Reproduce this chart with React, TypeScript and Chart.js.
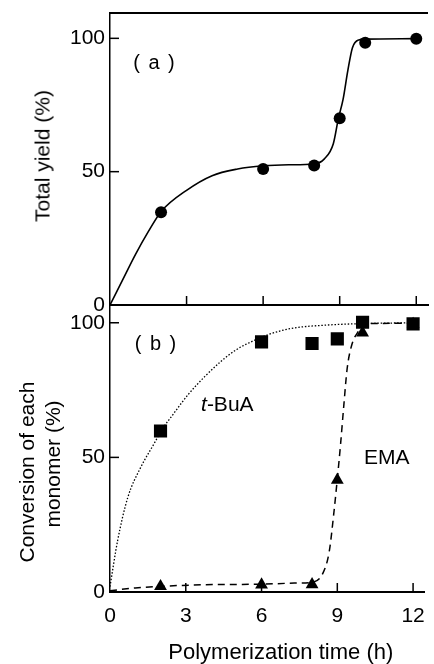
import React, { useEffect, useRef } from 'react';
import { Chart, registerables } from 'chart.js';

Chart.register(...registerables);

const FONT = '"Liberation Sans", Arial, Helvetica, sans-serif';

// axis ticks
const xTickValues = [0, 3, 6, 9, 12];
const yTickValues = [0, 50, 100];

// measured points (h, %)
const sampleTimes = [2, 6, 8, 9, 10, 12];
const totalYield = [34.8, 51.0, 52.3, 70.0, 98.3, 99.8];
const tBuAConversion = [59.8, 92.9, 92.3, 94.0, 100.2, 99.6];
const emaConversion = [2.1, 2.7, 2.8, 41.6, 96.3, 99.5];

// hand-drawn guide curves
const yieldCurveTimes = [0, 0.5, 1, 1.5, 2, 3, 4, 5, 6, 7, 8, 8.4, 8.75, 8.95, 9.13, 9.32, 9.5, 9.75, 10, 12];
const yieldCurveValues = [0, 9.5, 19, 27.5, 35, 43, 48.5, 51, 52.2, 52.6, 52.9, 54.8, 60.5, 70, 77, 88, 96.5, 99.4, 99.7, 99.9];

const tBuACurveTimes = [0, 0.3, 0.7, 1.2, 1.8, 2, 2.5, 3.1, 3.75, 4.4, 5, 5.7, 6.3, 6.8, 7.3, 8.5, 10, 12];
const tBuACurveValues = [2, 19, 35, 46, 56, 59.5, 66, 73.4, 80, 85.7, 90, 93.4, 95.7, 97.1, 98.1, 99.1, 99.7, 100];

const emaCurveTimes = [0, 1, 2, 3.75, 6, 7.3, 8.05, 8.43, 8.68, 8.87, 9.0, 9.13, 9.26, 9.39, 9.58, 9.84, 10, 12];
const emaCurveValues = [0.5, 1.5, 2.1, 2.7, 2.9, 3.3, 3.7, 7, 15, 30, 42, 55, 69.6, 83, 92, 97, 99.6, 99.8];

const X_MAX = 12.46;
const Y_MAX_A = 109.5;
const Y_MAX_B = 106.6;

const pts = (xs: number[], ys: number[]) => xs.map((x, i) => ({ x, y: ys[i] }));

const frameTicks = {
  id: 'frameTicks',
  afterDraw(chart: any, _args: any, opts: any) {
    const { ctx, chartArea, scales } = chart;
    const { left, right, top, bottom } = chartArea;
    ctx.save();
    ctx.strokeStyle = '#000';
    ctx.lineWidth = 1.5;
    const len = 9;
    scales.x.ticks.forEach((t: any) => {
      const px = scales.x.getPixelForValue(t.value);
      if (px <= left + 1) return;
      ctx.beginPath();
      ctx.moveTo(px, bottom);
      ctx.lineTo(px, bottom - len);
      ctx.stroke();
    });
    scales.y.ticks.forEach((t: any) => {
      const py = scales.y.getPixelForValue(t.value);
      if (py >= bottom - 1) return;
      ctx.beginPath();
      ctx.moveTo(left, py);
      ctx.lineTo(left + len, py);
      ctx.stroke();
    });
    if (opts && opts.topBorder) {
      ctx.lineWidth = 2;
      ctx.beginPath();
      ctx.moveTo(left - 0.75, top);
      ctx.lineTo(right, top);
      ctx.stroke();
    }
    ctx.restore();
  },
};

function makeScales(yMax: number, showX: boolean, xHeight: number) {
  return {
    x: {
      type: 'linear',
      min: 0,
      max: X_MAX,
      afterBuildTicks: (s: any) => {
        s.ticks = xTickValues.map((v) => ({ value: v }));
      },
      ticks: {
        display: showX,
        color: '#000',
        padding: 12,
        maxRotation: 0,
        font: { family: FONT, size: 21 },
        callback: (v: any) => String(v),
      },
      grid: { display: false, drawTicks: false },
      border: { display: true, color: '#000', width: 2 },
      afterFit: (s: any) => {
        s.height = xHeight;
        s.paddingLeft = 0;
        s.paddingRight = 0;
      },
    },
    y: {
      type: 'linear',
      min: 0,
      max: yMax,
      afterBuildTicks: (s: any) => {
        s.ticks = yTickValues.map((v) => ({ value: v }));
      },
      ticks: {
        color: '#000',
        padding: 5,
        font: { family: FONT, size: 21 },
        callback: (v: any) => String(v),
      },
      grid: { display: false, drawTicks: false },
      border: { display: true, color: '#000', width: 1.5 },
      afterFit: (s: any) => {
        s.width = 110;
        s.paddingTop = 0;
        s.paddingBottom = 0;
      },
    },
  };
}

export default function App() {
  const refA = useRef<HTMLCanvasElement>(null);
  const refB = useRef<HTMLCanvasElement>(null);

  useEffect(() => {
    const chartA = new Chart(refA.current as HTMLCanvasElement, {
      type: 'scatter',
      data: {
        datasets: [
          {
            label: 'Total yield',
            data: pts(sampleTimes, totalYield),
            pointStyle: 'circle',
            pointRadius: 6,
            backgroundColor: '#000',
            borderWidth: 0,
            showLine: false,
          },
          {
            label: 'Total yield curve',
            data: pts(yieldCurveTimes, yieldCurveValues),
            showLine: true,
            pointRadius: 0,
            borderColor: '#000',
            borderWidth: 1.6,
            cubicInterpolationMode: 'monotone',
          },
        ],
      } as any,
      options: {
        responsive: false,
        animation: false,
        devicePixelRatio: 1,
        layout: { padding: { top: 13, left: 0, right: 0, bottom: 0 } },
        plugins: { legend: { display: false }, tooltip: { enabled: false }, frameTicks: { topBorder: true } } as any,
        scales: makeScales(Y_MAX_A, false, 25) as any,
      },
      plugins: [frameTicks],
    });

    const chartB = new Chart(refB.current as HTMLCanvasElement, {
      type: 'scatter',
      data: {
        datasets: [
          {
            label: 't-BuA',
            data: pts(sampleTimes, tBuAConversion),
            pointStyle: 'rect',
            pointRadius: 9.3,
            backgroundColor: '#000',
            borderWidth: 0,
            showLine: false,
          },
          {
            label: 'EMA',
            data: pts(sampleTimes, emaConversion),
            pointStyle: 'triangle',
            pointRadius: 7.4,
            backgroundColor: '#000',
            borderWidth: 0,
            showLine: false,
          },
          {
            label: 't-BuA curve',
            data: pts(tBuACurveTimes, tBuACurveValues),
            showLine: true,
            pointRadius: 0,
            borderColor: '#000',
            borderWidth: 1.3,
            borderDash: [1.5, 1.8],
            cubicInterpolationMode: 'monotone',
          },
          {
            label: 'EMA curve',
            data: pts(emaCurveTimes, emaCurveValues),
            showLine: true,
            pointRadius: 0,
            borderColor: '#000',
            borderWidth: 1.5,
            borderDash: [7, 5],
            cubicInterpolationMode: 'monotone',
          },
        ],
      } as any,
      options: {
        responsive: false,
        animation: false,
        devicePixelRatio: 1,
        layout: { padding: { top: 10, left: 0, right: 0, bottom: 0 } },
        plugins: { legend: { display: false }, tooltip: { enabled: false }, frameTicks: { topBorder: false } } as any,
        scales: makeScales(Y_MAX_B, true, 72) as any,
      },
      plugins: [frameTicks],
    });

    return () => {
      chartA.destroy();
      chartB.destroy();
    };
  }, []);

  const txt = (
    content: React.ReactNode,
    cx: number,
    cy: number,
    size: number,
    rotate = false,
    extra: React.CSSProperties = {}
  ) => (
    <div
      style={{
        position: 'absolute',
        left: cx,
        top: cy,
        transform: rotate ? 'translate(-50%, -50%) rotate(-90deg)' : 'translate(-50%, -50%)',
        fontFamily: FONT,
        fontSize: size,
        lineHeight: 1,
        whiteSpace: 'nowrap',
        color: '#000',
        ...extra,
      }}
    >
      {content}
    </div>
  );

  return (
    <div style={{ position: 'absolute', left: 0, top: 0, width: 434, height: 664, background: '#fff', overflow: 'hidden' }}>
      <canvas ref={refA} width={434} height={330} style={{ position: 'absolute', left: 0, top: 0 }} />
      <canvas ref={refB} width={434} height={369} style={{ position: 'absolute', left: 0, top: 295 }} />
      {txt('( a )', 154, 61.5, 20, false, { wordSpacing: 3 })}
      {txt('( b )', 155.5, 343, 20, false, { wordSpacing: 3 })}
      {txt(<span><i>t</i>-BuA</span>, 227.3, 403, 21)}
      {txt('EMA', 386.7, 455.5, 21)}
      {txt('Total yield (%)', 42, 156, 21, true)}
      {txt('Conversion of each', 26, 471.7, 21, true)}
      {txt('monomer (%)', 51.5, 464, 21, true)}
      {txt('Polymerization time (h)', 280.8, 651.5, 22)}
    </div>
  );
}
